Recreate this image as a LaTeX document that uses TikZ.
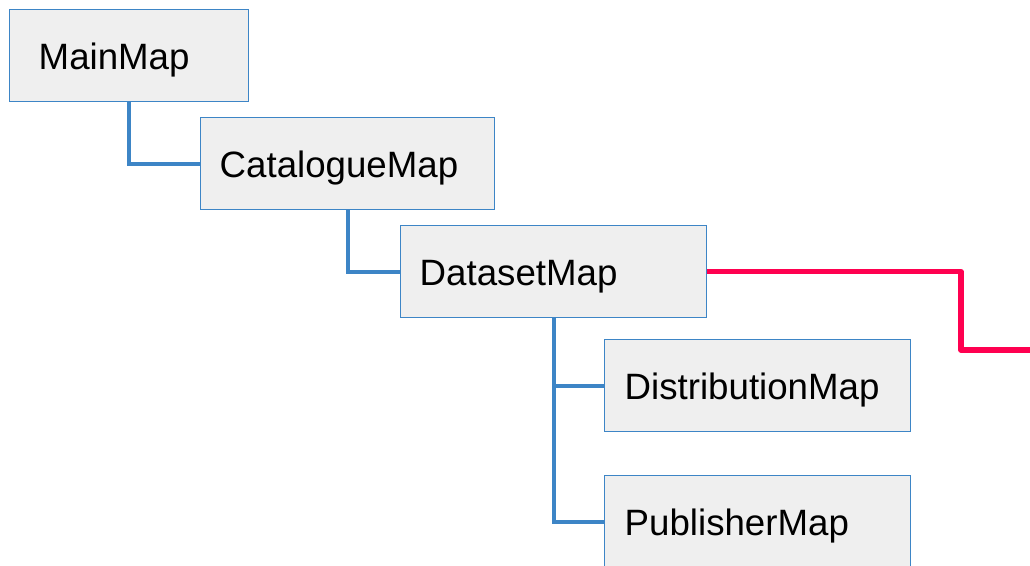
\documentclass[tikz,border=0pt]{standalone}
\usepackage{fontspec}
\setmainfont{Liberation Sans}
\definecolor{mapblue}{HTML}{3D85C6}
\definecolor{mapgray}{HTML}{EFEFEF}
\definecolor{mapred}{HTML}{FF0050}
\begin{document}
\begin{tikzpicture}[x=0.75pt,y=-0.75pt,
    mapbox/.style={draw=mapblue, line width=1.1pt, fill=mapgray, anchor=north west,
        minimum height=69pt, inner xsep=14.25pt, inner ysep=0pt, align=left,
        text height=27pt, text depth=6pt,
        font=\fontsize{27.5}{30}\selectfont},
    link/.style={draw=mapblue, line width=2.7pt},
    redlink/.style={draw=mapred, line width=4pt, line join=round}]
    \useasboundingbox (0,0) rectangle (1030,565);
    % boxes
    \node[mapbox, text width=135.75pt, inner xsep=21.75pt] (main) at (9,9) {MainMap};
    \node[mapbox, text width=192pt] (cat) at (200,117) {CatalogueMap};
    \node[mapbox, text width=201pt] (data) at (400,225) {DatasetMap};
    \node[mapbox, text width=199.5pt, inner xsep=15pt] (dist) at (604,339) {DistributionMap};
    \node[mapbox, text width=199.5pt, inner xsep=15pt] (pub) at (604,475) {PublisherMap};
    % tree links
    \draw[link] (main.south) |- (cat.west);
    \draw[link] (cat.south) |- (data.west);
    \draw[link] (data.south) |- (dist.west);
    \draw[link] (data.south) |- (pub.west);
    % link going out on the right
    \coordinate (turn) at (961,350);
    \coordinate (redend) at (1032,350);
    \draw[redlink] (data.east) -| (turn) -- (redend);
\end{tikzpicture}
\end{document}
